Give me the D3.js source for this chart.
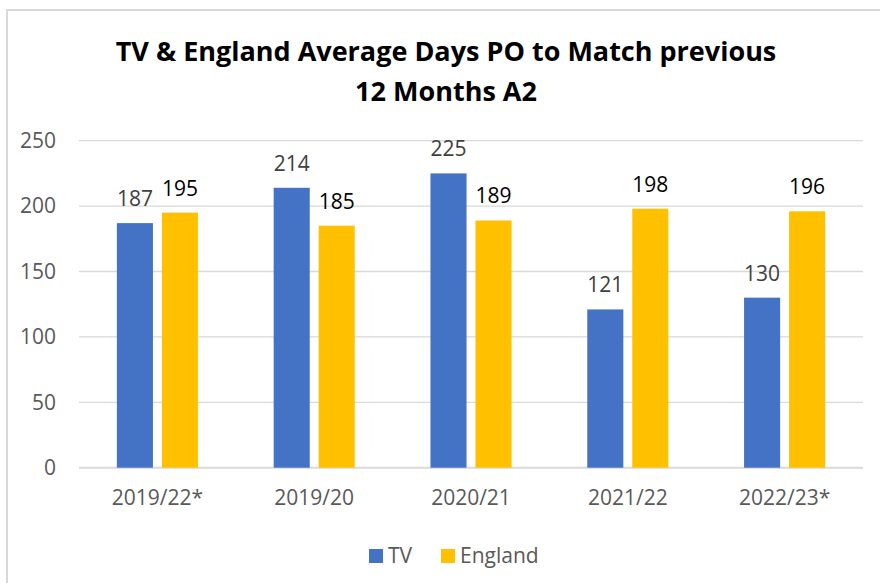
<!DOCTYPE html>
<html>
<head>
<meta charset="utf-8">
<script src="https://cdn.jsdelivr.net/npm/d3@7"></script>
<style>
  body { margin: 0; background: #fff; }
  svg { display: block; font-family: "Open Sans", sans-serif; }
</style>
</head>
<body>
<div id="chart"></div>
<script>
const width = 880,
  height = 583;

// data
const categories = ["2019/22*", "2019/20", "2020/21", "2021/22", "2022/23*"];
const tvValues = [187, 214, 225, 121, 130];
const englandValues = [195, 185, 189, 198, 196];
const yTicks = [0, 50, 100, 150, 200, 250];
const seriesNames = ["TV", "England"];
const colors = ["#4472C4", "#FFC000"];

const plot = { left: 79, right: 863, top: 140.7, bottom: 467.7 };

const svg = d3
  .select("#chart")
  .append("svg")
  .attr("width", width)
  .attr("height", height);

// chart border (only top and left are visible)
svg
  .append("path")
  .attr("d", `M7,${height} V10 H${width}`)
  .attr("fill", "none")
  .attr("stroke", "#d9d9d9")
  .attr("stroke-width", 2);

// title
const title = svg
  .append("text")
  .attr("text-anchor", "middle")
  .attr("font-weight", "bold")
  .attr("font-size", 27)
  .attr("fill", "#000");
title.append("tspan").attr("x", 446).attr("y", 61).text("TV & England Average Days PO to Match previous");
title.append("tspan").attr("x", 446).attr("y", 101).text("12 Months A2");

// scales
const xScale = d3
  .scaleBand()
  .domain(categories)
  .range([plot.left, plot.right]);

const yScale = d3
  .scaleLinear()
  .domain([0, 250])
  .range([plot.bottom, plot.top]);

const barW = xScale.bandwidth() * 0.23;
const gap = xScale.bandwidth() * 0.057;

// grid
svg
  .append("g")
  .selectAll("line")
  .data(yTicks)
  .enter()
  .append("line")
  .attr("x1", plot.left)
  .attr("x2", plot.right)
  .attr("y1", (d) => yScale(d))
  .attr("y2", (d) => yScale(d))
  .attr("stroke", "#d9d9d9")
  .attr("stroke-width", (d) => (d === 0 ? 2 : 1.3));

// y axis labels
const yAxis = d3.axisLeft(yScale).tickValues(yTicks).tickSize(0).tickPadding(0);
const yG = svg
  .append("g")
  .attr("transform", `translate(56,0)`)
  .call(yAxis);
yG.select(".domain").remove();
yG.selectAll("text")
  .attr("font-size", 21)
  .attr("font-family", "Open Sans, sans-serif")
  .attr("fill", "#595959");

// x axis labels
const xAxis = d3.axisBottom(xScale).tickSize(0).tickPadding(0);
const xG = svg
  .append("g")
  .attr("transform", `translate(0,${plot.bottom + 22})`)
  .call(xAxis);
xG.select(".domain").remove();
xG.selectAll("text")
  .attr("font-size", 21)
  .attr("font-family", "Open Sans, sans-serif")
  .attr("fill", "#595959");

// bars
const series = [tvValues, englandValues];
series.forEach((vals, s) => {
  const offset = s === 0 ? -gap / 2 - barW : gap / 2;
  const g = svg.append("g");
  g.selectAll("rect")
    .data(vals)
    .enter()
    .append("rect")
    .attr("x", (d, i) => xScale(categories[i]) + xScale.bandwidth() / 2 + offset)
    .attr("y", (d) => yScale(d))
    .attr("width", barW)
    .attr("height", (d) => yScale(0) - yScale(d))
    .attr("fill", colors[s]);

  g.selectAll("text")
    .data(vals)
    .enter()
    .append("text")
    .attr("x", (d, i) => xScale(categories[i]) + xScale.bandwidth() / 2 + offset + barW / 2)
    .attr("y", (d) => yScale(d) - 17)
    .attr("text-anchor", "middle")
    .attr("font-size", 21)
    .attr("fill", s === 0 ? "#404040" : "#000")
    .text((d) => d);
});

// legend
const legendX = [369, 441];
const legend = svg
  .selectAll(".legend")
  .data(seriesNames)
  .enter()
  .append("g")
  .attr("class", "legend")
  .attr("transform", (d, i) => `translate(${legendX[i]},549)`);

legend
  .append("rect")
  .attr("width", 14)
  .attr("height", 14)
  .attr("fill", (d, i) => colors[i]);

legend
  .append("text")
  .attr("x", 19)
  .attr("y", 14)
  .attr("font-size", 21)
  .attr("fill", "#595959")
  .text((d) => d);
</script>
</body>
</html>
